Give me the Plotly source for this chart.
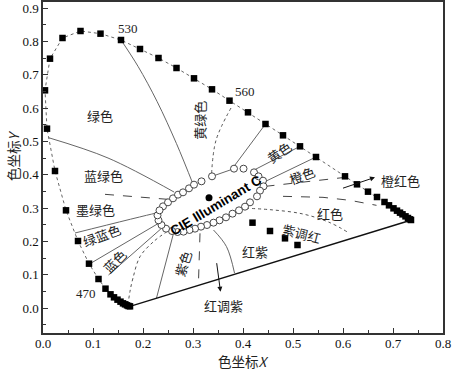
import plotly.graph_objects as go

# Spectral locus (black squares)
locus_x = [0.174, 0.171, 0.168, 0.164, 0.160, 0.155, 0.149, 0.142, 0.135, 0.125, 0.111, 0.092,
           0.070, 0.046, 0.024, 0.008, 0.004, 0.014, 0.039, 0.075, 0.115, 0.156, 0.194, 0.231,
           0.267, 0.302, 0.338, 0.373, 0.410, 0.445, 0.480, 0.514, 0.546, 0.604, 0.628, 0.650,
           0.668, 0.683, 0.692, 0.701, 0.708, 0.714, 0.719, 0.725, 0.730, 0.734, 0.736]
locus_y = [0.005, 0.006, 0.008, 0.011, 0.014, 0.019, 0.025, 0.032, 0.041, 0.058, 0.087, 0.133,
           0.201, 0.293, 0.411, 0.538, 0.653, 0.748, 0.810, 0.831, 0.823, 0.804, 0.777, 0.750,
           0.720, 0.689, 0.656, 0.622, 0.587, 0.552, 0.518, 0.485, 0.453, 0.395, 0.371, 0.349,
           0.333, 0.318, 0.308, 0.299, 0.292, 0.286, 0.281, 0.275, 0.270, 0.266, 0.264]

# Purple line
purple_x = [0.174, 0.737]
purple_y = [0.005, 0.264]

# Ring of open circles around CIE Illuminant C
ring_x = [0.240, 0.250, 0.260, 0.270, 0.280, 0.292, 0.302, 0.317, 0.338, 0.382, 0.401, 0.422,
          0.431, 0.440, 0.441, 0.434, 0.428, 0.414, 0.404, 0.392, 0.379, 0.366, 0.353, 0.341,
          0.328, 0.316, 0.304, 0.293, 0.281, 0.269, 0.258, 0.246, 0.237, 0.231, 0.229, 0.233]
ring_y = [0.305, 0.317, 0.329, 0.340, 0.347, 0.359, 0.370, 0.380, 0.395, 0.418, 0.418, 0.407,
          0.395, 0.382, 0.365, 0.352, 0.335, 0.317, 0.304, 0.293, 0.283, 0.272, 0.263, 0.256,
          0.249, 0.244, 0.238, 0.234, 0.229, 0.228, 0.231, 0.238, 0.249, 0.263, 0.278, 0.293]

# Centre point
center_x = [0.332]
center_y = [0.331]

# Interior black squares
inner_x = [0.419, 0.454, 0.484, 0.509]
inner_y = [0.256, 0.231, 0.209, 0.189]

# Boundary lines (x list, y list)
solid_lines = {
    "l530": ([0.156, 0.190, 0.228, 0.267, 0.301], [0.804, 0.725, 0.620, 0.493, 0.368]),
    "l570": ([0.445, 0.381], [0.552, 0.423]),
    "l580": ([0.514, 0.421], [0.485, 0.413]),
    "l585": ([0.546, 0.441], [0.453, 0.377]),
    "lcyan": ([0.011, 0.130, 0.262], [0.511, 0.450, 0.348]),
    "lgb": ([0.064, 0.224, 0.231], [0.225, 0.284, 0.286]),
    "lb": ([0.093, 0.231], [0.132, 0.254]),
    "lb2": ([0.131, 0.237], [0.099, 0.239]),
    "lv": ([0.227, 0.261], [0.030, 0.224]),
    "lrp": ([0.341, 0.367, 0.383], [0.234, 0.184, 0.105]),
    "ltop": ([0.338, 0.382], [0.395, 0.418]),
}
dotted_lines = {
    "l560": ([0.376, 0.346, 0.337], [0.600, 0.503, 0.398]),
    "lred": ([0.394, 0.454, 0.520, 0.574, 0.611], [0.300, 0.295, 0.282, 0.256, 0.226]),
    "lblue": ([0.170, 0.174, 0.180, 0.194, 0.221, 0.247], [0.010, 0.050, 0.090, 0.154, 0.199, 0.228]),
}
dashed_lines = {
    "lor": ([0.445, 0.605], [0.365, 0.392]),
    "lred2": ([0.480, 0.560, 0.614, 0.667], [0.335, 0.332, 0.323, 0.308]),
    "lteal": ([0.124, 0.250], [0.341, 0.326]),
    "lvert": ([0.314, 0.311], [0.224, 0.079]),
}

fig = go.Figure()

fig.add_trace(go.Scatter(x=locus_x, y=locus_y, mode="lines",
                         line=dict(color="#555", width=0.9, dash="dot"), hoverinfo="skip"))
for xs, ys in solid_lines.values():
    fig.add_trace(go.Scatter(x=xs, y=ys, mode="lines", line=dict(color="#666", width=1, shape="spline"),
                             hoverinfo="skip"))
for xs, ys in dotted_lines.values():
    fig.add_trace(go.Scatter(x=xs, y=ys, mode="lines", line=dict(color="#555", width=1, dash="dot", shape="spline"),
                             hoverinfo="skip"))
for xs, ys in dashed_lines.values():
    fig.add_trace(go.Scatter(x=xs, y=ys, mode="lines", line=dict(color="#444", width=1, dash="dash"),
                             hoverinfo="skip"))
fig.add_trace(go.Scatter(x=purple_x, y=purple_y, mode="lines", line=dict(color="#111", width=1.4)))
fig.add_trace(go.Scatter(x=locus_x, y=locus_y, mode="markers",
                         marker=dict(symbol="square", size=6.5, color="black")))
fig.add_trace(go.Scatter(x=inner_x, y=inner_y, mode="markers",
                         marker=dict(symbol="square", size=6.5, color="black")))
fig.add_trace(go.Scatter(x=ring_x, y=ring_y, mode="markers",
                         marker=dict(symbol="circle", size=7, color="white",
                                     line=dict(color="#333", width=0.9))))
fig.add_trace(go.Scatter(x=center_x, y=center_y, mode="markers",
                         marker=dict(symbol="circle", size=7, color="black")))

cjk = "Noto Sans CJK SC"
labels = [
    ("530", 0.170, 0.838, 0, "Liberation Serif", 13),
    ("560", 0.404, 0.650, 0, "Liberation Serif", 13),
    ("470", 0.086, 0.045, 0, "Liberation Serif", 13),
    ("绿色", 0.114, 0.578, 0, cjk, 13),
    ("黄绿色", 0.313, 0.563, -90, cjk, 13),
    ("蓝绿色", 0.121, 0.398, 0, cjk, 13),
    ("墨绿色", 0.104, 0.296, 0, cjk, 13),
    ("绿蓝色", 0.116, 0.219, -20, cjk, 13),
    ("蓝色", 0.143, 0.139, -45, cjk, 13),
    ("紫色", 0.279, 0.132, -72, cjk, 13),
    ("红紫", 0.424, 0.169, 0, cjk, 13),
    ("紫调红", 0.517, 0.224, 14, cjk, 13),
    ("红色", 0.574, 0.284, 0, cjk, 13),
    ("红调紫", 0.360, 0.009, 0, cjk, 13),
    ("黄色", 0.471, 0.468, -35, cjk, 13),
    ("橙色", 0.517, 0.398, -20, cjk, 13),
    ("橙红色", 0.714, 0.383, 0, cjk, 13),
]
annotations = []
for t, x, y, a, f, s in labels:
    annotations.append(dict(text=t, x=x, y=y, xref="x", yref="y", showarrow=False,
                            textangle=a, font=dict(family=f, size=s, color="#222")))
annotations.append(dict(text="<b>CIE Illuminant C</b>", x=0.346, y=0.308, xref="x", yref="y",
                        showarrow=False, textangle=-31,
                        font=dict(family="Liberation Sans", size=13.5, color="black")))
# arrows
annotations.append(dict(x=0.664, y=0.392, ax=0.597, ay=0.358, xref="x", yref="y", axref="x", ayref="y",
                        showarrow=True, arrowhead=2, arrowsize=1, arrowwidth=1, arrowcolor="#111", text=""))
annotations.append(dict(x=0.355, y=0.049, ax=0.347, ay=0.139, xref="x", yref="y", axref="x", ayref="y",
                        showarrow=True, arrowhead=2, arrowsize=1, arrowwidth=1, arrowcolor="#111", text=""))
# axis titles
annotations.append(dict(text="色坐标<i>X</i>", x=0.5, y=-0.084, xref="paper", yref="paper",
                        showarrow=False, yanchor="middle",
                        font=dict(family=cjk + ", Liberation Serif", size=13.5, color="#222")))
annotations.append(dict(text="色坐标<i>Y</i>", x=-0.105, y=0.535, xref="paper", yref="paper",
                        showarrow=False, textangle=-90,
                        font=dict(family=cjk + ", Liberation Serif", size=13.5, color="#222")))

axis_common = dict(showgrid=False, zeroline=False, showline=True, linecolor="#333", linewidth=1.5,
                   mirror=True, ticks="inside", ticklen=5, tickcolor="#333", automargin=False,
                   tickfont=dict(family="Liberation Serif", size=13, color="#111"))
fig.update_layout(
    width=453, height=370,
    margin=dict(l=43, r=10, t=2, b=37, autoexpand=False),
    paper_bgcolor="white", plot_bgcolor="white",
    showlegend=False,
    annotations=annotations,
    xaxis=dict(range=[0, 0.8], tickvals=[0, 0.1, 0.2, 0.3, 0.4, 0.5, 0.6, 0.7, 0.8],
               ticktext=["0.0", "0.1", "0.2", "0.3", "0.4", "0.5", "0.6", "0.7", "0.8"],
               ticklabelstandoff=-2,
               minor=dict(dtick=0.05, ticks="inside", ticklen=3, tickcolor="#333"), **axis_common),
    yaxis=dict(range=[-0.075, 0.918], tickvals=[0, 0.1, 0.2, 0.3, 0.4, 0.5, 0.6, 0.7, 0.8, 0.9],
               ticktext=["0.0", "0.1", "0.2", "0.3", "0.4", "0.5", "0.6", "0.7", "0.8", "0.9"],
               minor=dict(dtick=0.05, ticks="inside", ticklen=3, tickcolor="#333"), **axis_common),
)

fig.write_html("out.html", config={"displayModeBar": False},
               post_script="document.body.style.margin='0';document.body.style.overflow='hidden';")
